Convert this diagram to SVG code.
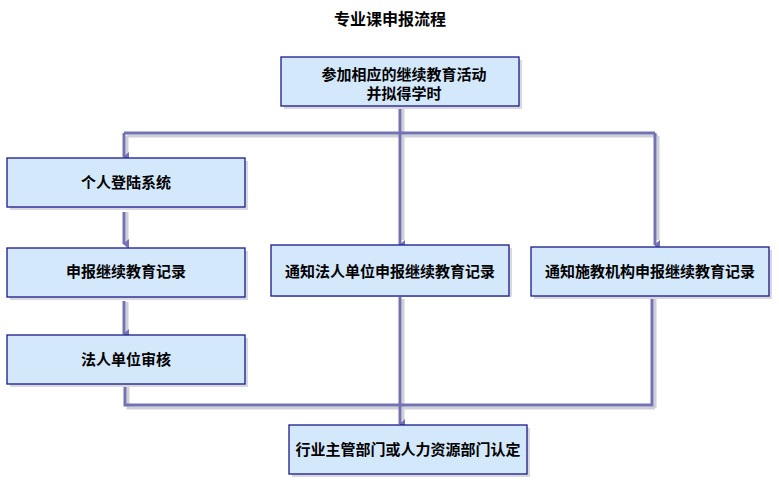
<svg xmlns="http://www.w3.org/2000/svg" width="779" height="485" viewBox="0 0 779 485">
<defs>
<style>
.box{fill:#D4E8FC;stroke:#1A1A8C;stroke-width:1.3}
.sh{fill:#D8D8DE}
.t{font-family:"Noto Sans CJK SC","Liberation Sans",sans-serif;font-size:15px;font-weight:bold;fill:#000;text-anchor:middle}
.ln{fill:none;stroke:#7272B4;stroke-width:3}
.lsh{fill:none;stroke:#D0D0D8;stroke-width:3}
</style>
<marker id="ah" markerWidth="10" markerHeight="6" refX="5" refY="5" orient="auto" markerUnits="userSpaceOnUse" viewBox="0 0 10 6"><path d="M0,0 L10,0 L5,6 Z" fill="#7272B4"/></marker>
</defs>
<rect width="779" height="485" fill="#fff"/>
<text x="390" y="25" class="t" style="font-size:16px">专业课申报流程</text>
<g id="connectors">
<path class="lsh" d="M403,109 V136 M127,136 H658 M658,136 V240 M403,136 V240 M127,136 V155 M127,212 V242 M127,302 V332"/>
<path class="ln" d="M400,106 V133 M124,133 H655"/>
<path class="ln" d="M124,133 V157" marker-end="url(#ah)"/>
<path class="ln" d="M400,133 V245" marker-end="url(#ah)"/>
<path class="ln" d="M655,133 V245" marker-end="url(#ah)"/>
<path class="ln" d="M124,212 V244" marker-end="url(#ah)"/>
<path class="ln" d="M124,301 V334" marker-end="url(#ah)"/>
<path class="lsh" d="M128,387 V408 H655 M403,299 V420 M655,299 V408"/>
<path class="ln" d="M125,384 V405 H652 V296"/>
<path class="ln" d="M400,296 V424" marker-end="url(#ah)"/>
</g>
<g id="n0"><rect class="sh" x="284" y="60" width="238" height="49"/><rect class="box" x="281" y="57" width="238" height="49"/><text class="t" x="404" y="80">参加相应的继续教育活动</text><text class="t" x="404" y="99">并拟得学时</text></g>
<g id="n1"><rect class="sh" x="10" y="161" width="238" height="49"/><rect class="box" x="7" y="158" width="238" height="49"/><text class="t" x="126" y="188">个人登陆系统</text></g>
<g id="n2"><rect class="sh" x="10" y="251" width="238" height="49"/><rect class="box" x="7" y="248" width="238" height="49"/><text class="t" x="126" y="277">申报继续教育记录</text></g>
<g id="n3"><rect class="sh" x="10" y="338" width="238" height="49"/><rect class="box" x="7" y="335" width="238" height="49"/><text class="t" x="126" y="365">法人单位审核</text></g>
<g id="n4"><rect class="sh" x="274" y="248" width="238" height="49"/><rect class="box" x="271" y="245" width="238" height="51"/><text class="t" x="390" y="277">通知法人单位申报继续教育记录</text></g>
<g id="n5"><rect class="sh" x="534" y="250" width="238" height="49"/><rect class="box" x="531" y="247" width="238" height="49"/><text class="t" x="650" y="277">通知施教机构申报继续教育记录</text></g>
<g id="n6"><rect class="sh" x="292" y="428" width="238" height="49"/><rect class="box" x="289" y="425" width="238" height="49"/><text class="t" x="408" y="455">行业主管部门或人力资源部门认定</text></g>
</svg>
